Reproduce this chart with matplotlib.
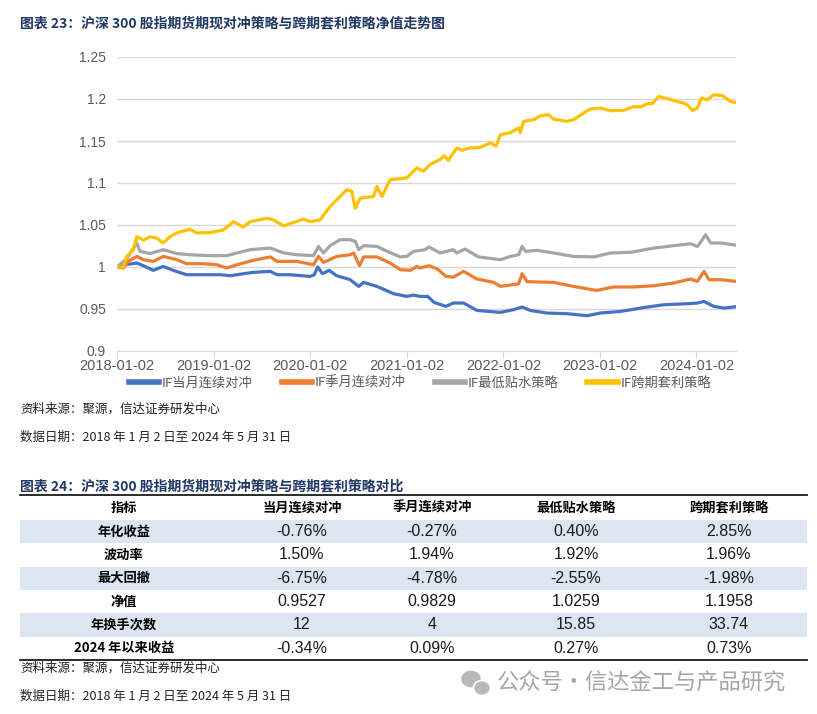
import matplotlib
matplotlib.use('Agg')
import matplotlib.pyplot as plt
from matplotlib import font_manager
from matplotlib.patches import Rectangle, Ellipse
import pandas as pd

CJK = 'Noto Sans CJK SC'


def has_font(name):
    try:
        font_manager.findfont(name, fallback_to_default=False)
        return True
    except Exception:
        return False


NARROW = 'Liberation Sans Narrow' if has_font('Liberation Sans Narrow') else 'Liberation Sans'
plt.rcParams['font.family'] = [CJK, 'DejaVu Sans']

# ---------------- data: net value series ----------------
yellow_dates = ['2018-01-02', '2018-01-26', '2018-02-08', '2018-03-05', '2018-03-18', '2018-04-12',
                '2018-05-07', '2018-06-01', '2018-06-26', '2018-07-21', '2018-08-16', '2018-10-05',
                '2018-10-31', '2018-12-20', '2019-02-08', '2019-03-18', '2019-04-25', '2019-05-20',
                '2019-07-23', '2019-08-17', '2019-09-24', '2019-12-08', '2020-01-03', '2020-02-09',
                '2020-03-18', '2020-04-25', '2020-05-20', '2020-06-08', '2020-06-21', '2020-07-10',
                '2020-08-29', '2020-09-11', '2020-09-30', '2020-10-31', '2021-01-02', '2021-02-09',
                '2021-03-06', '2021-03-31', '2021-05-08', '2021-05-23', '2021-06-08', '2021-07-10',
                '2021-07-29', '2021-08-30', '2021-10-07', '2021-11-14', '2021-12-06', '2021-12-22',
                '2022-01-29', '2022-03-01', '2022-03-07', '2022-03-20', '2022-04-27', '2022-05-22',
                '2022-06-22', '2022-07-11', '2022-08-31', '2022-09-25', '2022-11-02', '2022-11-27',
                '2023-01-04', '2023-02-11', '2023-04-02', '2023-05-10', '2023-06-05', '2023-06-30',
                '2023-07-19', '2023-08-13', '2023-09-07', '2023-09-20', '2023-10-09', '2023-11-16',
                '2023-11-29', '2023-12-18', '2024-01-06', '2024-01-21', '2024-02-12', '2024-03-08',
                '2024-04-09', '2024-05-11', '2024-05-31']
yellow_vals = [1.000, 1.000, 1.0126, 1.0206, 1.036, 1.032,
               1.036, 1.0345, 1.0286, 1.036, 1.0405, 1.045,
               1.0405, 1.041, 1.044, 1.054, 1.0476, 1.054,
               1.058, 1.056, 1.049, 1.057, 1.054, 1.056,
               1.072, 1.084, 1.092, 1.090, 1.070, 1.082,
               1.084, 1.096, 1.084, 1.104, 1.106, 1.118,
               1.114, 1.122, 1.128, 1.1325, 1.127, 1.1417,
               1.139, 1.1417, 1.1424, 1.1476, 1.144, 1.1575,
               1.160, 1.1655, 1.160, 1.1733, 1.1754, 1.180,
               1.1813, 1.176, 1.1733, 1.1754, 1.1833, 1.188,
               1.1893, 1.186, 1.1864, 1.191, 1.1905, 1.1944,
               1.1944, 1.203, 1.201, 1.200, 1.198, 1.195,
               1.193, 1.1864, 1.189, 1.201, 1.199, 1.205,
               1.204, 1.197, 1.1958]

grey_dates = ['2018-01-02', '2018-02-08', '2018-03-18', '2018-03-30', '2018-05-07', '2018-06-26',
              '2018-08-16', '2018-10-05', '2018-12-20', '2019-02-21', '2019-04-01', '2019-05-20',
              '2019-08-05', '2019-09-24', '2019-11-13', '2020-01-15', '2020-02-03', '2020-02-22',
              '2020-03-18', '2020-04-25', '2020-06-02', '2020-06-21', '2020-07-04', '2020-07-23',
              '2020-09-11', '2020-10-06', '2020-12-08', '2021-01-02', '2021-01-27', '2021-03-12',
              '2021-03-27', '2021-05-08', '2021-06-27', '2021-07-10', '2021-08-10', '2021-09-30',
              '2021-12-22', '2022-01-29', '2022-03-01', '2022-03-14', '2022-03-27', '2022-05-10',
              '2022-07-11', '2022-09-25', '2022-12-10', '2023-02-11', '2023-04-29', '2023-07-26',
              '2023-10-09', '2023-12-11', '2024-01-06', '2024-01-25', '2024-02-06', '2024-02-25',
              '2024-04-03', '2024-05-31']
grey_vals = [1.000, 1.010, 1.0286, 1.0186, 1.016, 1.0206,
             1.016, 1.0146, 1.0135, 1.0135, 1.0167, 1.0206,
             1.0226, 1.0167, 1.0146, 1.0135, 1.0245, 1.0167,
             1.0254, 1.0325, 1.0325, 1.0305, 1.0206, 1.0254,
             1.0245, 1.0206, 1.012, 1.0126, 1.0186, 1.0206,
             1.0238, 1.0167, 1.0206, 1.0167, 1.0214, 1.012,
             1.0087, 1.0126, 1.0146, 1.0245, 1.0186, 1.0198,
             1.0167, 1.0126, 1.012, 1.0167, 1.0175, 1.0226,
             1.0254, 1.0277, 1.0245, 1.0325, 1.0385, 1.0286,
             1.0286, 1.0259]

orange_dates = ['2018-01-02', '2018-01-26', '2018-02-14', '2018-03-18', '2018-04-12', '2018-05-19',
                '2018-06-26', '2018-08-16', '2018-09-22', '2018-11-25', '2019-01-14', '2019-02-21',
                '2019-04-01', '2019-06-01', '2019-08-05', '2019-08-30', '2019-11-13', '2020-01-15',
                '2020-02-03', '2020-02-22', '2020-04-12', '2020-06-02', '2020-06-15', '2020-07-07',
                '2020-07-23', '2020-09-11', '2020-10-31', '2020-12-08', '2021-01-15', '2021-02-09',
                '2021-02-21', '2021-03-27', '2021-04-28', '2021-05-30', '2021-06-27', '2021-08-05',
                '2021-09-24', '2021-11-27', '2021-12-22', '2022-03-01', '2022-03-14', '2022-04-02',
                '2022-07-11', '2022-09-25', '2022-12-20', '2023-02-24', '2023-05-10', '2023-07-26',
                '2023-10-09', '2023-12-11', '2024-01-06', '2024-01-31', '2024-02-19', '2024-04-03',
                '2024-05-31']
orange_vals = [1.000, 0.9988, 1.0067, 1.0126, 1.0087, 1.0067,
               1.0126, 1.0087, 1.0039, 1.0039, 1.0027, 0.9988,
               1.0027, 1.0079, 1.012, 1.0067, 1.0067, 1.0027,
               1.0126, 1.0055, 1.0126, 1.0146, 1.0167, 1.0015,
               1.012, 1.012, 1.0047, 0.9968, 0.996, 1.0007,
               0.9988, 1.0015, 0.9976, 0.9888, 0.988, 0.9948,
               0.9857, 0.9817, 0.9769, 0.980, 0.992, 0.9825,
               0.9817, 0.9769, 0.9721, 0.9762, 0.9762, 0.9777,
               0.981, 0.9857, 0.9829, 0.9948, 0.9849, 0.9849,
               0.9829]

blue_dates = ['2018-01-02', '2018-02-08', '2018-03-18', '2018-04-12', '2018-05-19', '2018-06-26',
              '2018-08-03', '2018-09-22', '2018-11-25', '2019-01-27', '2019-03-07', '2019-04-25',
              '2019-06-01', '2019-08-05', '2019-08-30', '2019-10-20', '2020-01-03', '2020-01-18',
              '2020-01-31', '2020-02-18', '2020-03-14', '2020-04-12', '2020-06-02', '2020-07-04',
              '2020-07-23', '2020-09-11', '2020-11-13', '2021-01-02', '2021-01-27', '2021-02-21',
              '2021-03-22', '2021-04-15', '2021-05-30', '2021-06-27', '2021-08-05', '2021-09-24',
              '2021-12-22', '2022-02-10', '2022-03-14', '2022-04-14', '2022-06-16', '2022-08-31',
              '2022-11-15', '2023-01-04', '2023-03-21', '2023-07-01', '2023-09-03', '2023-11-29',
              '2024-01-06', '2024-01-31', '2024-03-08', '2024-04-16', '2024-05-31']
blue_vals = [1.000, 1.003, 1.0047, 1.0015, 0.996, 1.0007,
             0.996, 0.9908, 0.9908, 0.9908, 0.9896, 0.992,
             0.9936, 0.9948, 0.9908, 0.9908, 0.9888, 0.9908,
             1.000, 0.992, 0.996, 0.9896, 0.9849, 0.9769,
             0.9817, 0.9769, 0.9682, 0.965, 0.9666, 0.965,
             0.965, 0.9579, 0.9531, 0.9571, 0.9571, 0.9483,
             0.946, 0.9492, 0.9524, 0.9483, 0.9452, 0.9444,
             0.942, 0.9452, 0.9471, 0.9524, 0.9551, 0.9563,
             0.9571, 0.959, 0.9531, 0.9511, 0.9527]

series_names = ['IF当月连续对冲', 'IF季月连续对冲', 'IF最低贴水策略', 'IF跨期套利策略']
x_tick_labels = ['2018-01-02', '2019-01-02', '2020-01-02', '2021-01-02',
                 '2022-01-02', '2023-01-02', '2024-01-02']
y_ticks = [0.9, 0.95, 1.0, 1.05, 1.1, 1.15, 1.2, 1.25]
y_tick_labels = ['0.9', '0.95', '1', '1.05', '1.1', '1.15', '1.2', '1.25']

# ---------------- data: comparison table ----------------
table_title = '图表 24：沪深 300 股指期货期现对冲策略与跨期套利策略对比'
table_header = ['指标', '当月连续对冲', '季月连续对冲', '最低贴水策略', '跨期套利策略']
row_labels = ['年化收益', '波动率', '最大回撤', '净值', '年换手次数', '2024 年以来收益']
col_dangyue = ['-0.76%', '1.50%', '-6.75%', '0.9527', '12', '-0.34%']
col_jiyue = ['-0.27%', '1.94%', '-4.78%', '0.9829', '4', '0.09%']
col_zuidi = ['0.40%', '1.92%', '-2.55%', '1.0259', '15.85', '0.27%']
col_kuaqi = ['2.85%', '1.96%', '-1.98%', '1.1958', '33.74', '0.73%']

chart_title = '图表 23：沪深 300 股指期货期现对冲策略与跨期套利策略净值走势图'
source_text = '资料来源：聚源，信达证券研发中心'
date_text = '数据日期：2018 年 1 月 2 日至 2024 年 5 月 31 日'
watermark = '公众号·信达金工与产品研究'

# ---------------- figure ----------------
W, H = 817, 714
fig = plt.figure(figsize=(W / 100, H / 100), dpi=100)
fig.patch.set_facecolor('white')

NAVY = '#1F3864'
colors = ['#4472C4', '#ED7D31', '#A5A5A5', '#FFC000']

# overlay in pixel coordinates
ov = fig.add_axes([0, 0, 1, 1], zorder=0)
ov.set_xlim(0, W)
ov.set_ylim(H, 0)
ov.axis('off')

ax = fig.add_axes([117 / W, 1 - 351 / H, (736 - 117) / W, (351 - 57) / H], zorder=2)
ax.patch.set_alpha(0)

all_dates = [blue_dates, orange_dates, grey_dates, yellow_dates]
all_vals = [blue_vals, orange_vals, grey_vals, yellow_vals]
for d, v, c, n in zip(all_dates, all_vals, colors, series_names):
    ax.plot(pd.to_datetime(d), v, color=c, lw=2.3, label=n, solid_joinstyle='round')

ax.set_xlim(pd.Timestamp('2018-01-02'), pd.Timestamp('2024-05-31'))
ax.set_ylim(0.9, 1.25)
ax.set_yticks(y_ticks)
ax.set_yticklabels(y_tick_labels, fontfamily=NARROW, fontsize=10, color='#595959')
ax.set_xticks(pd.to_datetime(x_tick_labels))
ax.set_xticklabels(x_tick_labels, fontfamily=NARROW, fontsize=10.5, color='#595959')
ax.tick_params(axis='y', length=0, pad=8)
ax.tick_params(axis='x', length=5, color='#D9D9D9', pad=1)
ax.yaxis.grid(True, color='#D9D9D9', lw=1)
ax.set_axisbelow(True)
for s in ['top', 'right', 'left']:
    ax.spines[s].set_visible(False)
ax.spines['bottom'].set_color('#D9D9D9')

leg = fig.legend(*ax.get_legend_handles_labels(), loc='center',
                 bbox_to_anchor=(420 / W, 1 - 383 / H), ncol=4, frameon=False,
                 fontsize=9.5, handlelength=2.3, handletextpad=0.2, columnspacing=2.2,
                 labelcolor='#595959', borderpad=0)
for lh in leg.get_lines():
    lh.set_linewidth(4)

# titles and notes
ov.text(20, 23, chart_title, fontsize=10, fontweight='bold', color=NAVY, va='center', ha='left')
ov.text(20, 409, source_text, fontsize=9, color='#222222', va='center', ha='left')
ov.text(20, 437, date_text, fontsize=9, color='#222222', va='center', ha='left')

# table
ov.text(20, 486, table_title, fontsize=10, fontweight='bold', color=NAVY, va='center', ha='left')
ov.plot([20, 807], [495, 495], color='#1A1A1A', lw=1.3)
col_x = [124, 302, 432, 576, 729]
for x, h in zip(col_x, table_header):
    ov.text(x, 508, h, fontsize=9.5, fontweight='bold', color='black', ha='center', va='center')
row_h = 23.3
top = 520
cols = [col_dangyue, col_jiyue, col_zuidi, col_kuaqi]
for i, lab in enumerate(row_labels):
    y0 = top + i * row_h
    if i % 2 == 0:
        ov.add_patch(Rectangle((20, y0), 787, row_h, facecolor='#DCE6F2', edgecolor='none'))
    yc = y0 + row_h / 2
    ov.text(col_x[0], yc, lab, fontsize=9.5, fontweight='bold', color='black', ha='center', va='center')
    for j, col in enumerate(cols):
        ov.text(col_x[j + 1], yc, col[i], fontsize=11.5, fontfamily=NARROW, color='#1A1A1A',
                ha='center', va='center')
ov.plot([20, 807], [top + 6 * row_h, top + 6 * row_h], color='#1A1A1A', lw=1.3)

ov.text(20, 668, source_text, fontsize=9, color='#222222', va='center', ha='left')
ov.text(20, 696, date_text, fontsize=9, color='#222222', va='center', ha='left')

# watermark
ov.add_patch(Ellipse((471, 679), 21, 18, facecolor='#B8B8B8', edgecolor='white', lw=1))
ov.add_patch(Ellipse((482, 688), 17, 15, facecolor='#B8B8B8', edgecolor='white', lw=1.2))
ov.text(497, 683, watermark, fontsize=16, color='#A6A6A6', va='center', ha='left')

fig.savefig('out.png', dpi=100)
